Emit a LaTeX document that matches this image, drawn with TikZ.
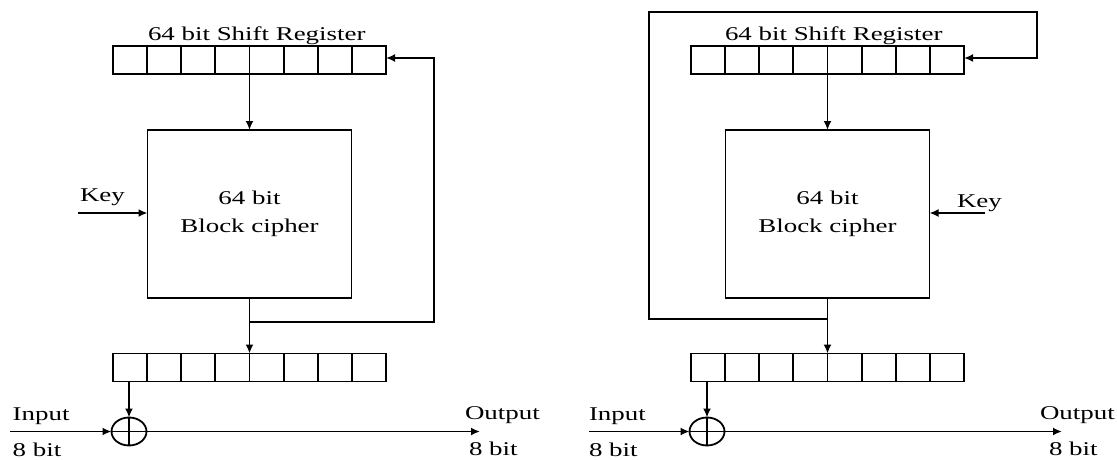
\documentclass[tikz,border=0pt]{standalone}
\usepackage{fontspec}
\newfontfamily\figfont[FakeStretch=1.38]{Liberation Serif}
\usetikzlibrary{arrows.meta,shapes.geometric}
\begin{document}
\begin{tikzpicture}[x=1pt,y=-1pt,
  every node/.style={font=\figfont\fontsize{19.5}{28}\selectfont, inner sep=0pt, outer sep=0pt},
  wire/.style={draw=black, line width=1.8pt},
  arrow/.style={wire, -{Latex[length=9pt,width=8pt]}},
  cell/.style={draw, line width=1.8pt, minimum width=34.125pt, minimum height=28pt},
  cipher/.style={draw, line width=1.8pt, minimum width=204pt, minimum height=168pt, align=center},
  xor/.style={draw, ellipse, line width=1.8pt, minimum width=35pt, minimum height=28pt},
  lbl/.style={anchor=base west}]
\fill[white] (0,0) rectangle (1117,460);
\useasboundingbox (0,0) rectangle (1117,460);

% ---------------- left diagram ----------------
\foreach \i in {1,...,8} {
  \node[cell] (lt\i) at ({113+34.125*(\i-0.5)},60) {};
  \node[cell] (lb\i) at ({113+34.125*(\i-0.5)},367.5) {};
}
\node[lbl] (ltlab) at (148,41) {64 bit Shift Register};
\node[cipher] (bl) at (249.5,214) {64 bit\\Block cipher};
\node[xor] (xL) at (129,431.5) {};
\draw[wire] (xL.north) -- (xL.south) (xL.west) -- (xL.east);

\draw[arrow] (bl.north |- lt4.south) -- (bl.north);
\draw[arrow] (bl.south) -- (bl.south |- lb4.north);
\coordinate (fbL1) at (434,322);
\coordinate (fbL2) at (434,58);
\draw[arrow] (bl.south |- fbL1) -- (fbL1) -- (fbL2) -- (fbL2 -| lt8.east);

\coordinate (kL) at (78,213);
\draw[arrow] (kL) -- (kL -| bl.west);
\node[lbl] (keyL) at (80,201) {Key};

\draw[arrow] (xL.north |- lb1.south) -- (xL.north);
\coordinate (inL) at (10,431.5);
\coordinate (outL) at (480,431.5);
\draw[arrow] (inL) -- (xL.west);
\draw[arrow] (xL.east) -- (outL);
\node[lbl] (inLab) at (12.7,420) {Input};
\node[lbl] (inBits) at (12.7,456) {8 bit};
\node[lbl] (outLab) at (465,419) {Output};
\node[lbl] (outBits) at (469,455) {8 bit};

% ---------------- right diagram ----------------
\foreach \i in {1,...,8} {
  \node[cell] (rt\i) at ({691+34.125*(\i-0.5)},60) {};
  \node[cell] (rb\i) at ({691+34.125*(\i-0.5)},367.5) {};
}
\node[lbl] (rtlab) at (725,41) {64 bit Shift Register};
\node[cipher] (br) at (827.5,214) {64 bit\\Block cipher};
\node[xor] (xR) at (707,431.5) {};
\draw[wire] (xR.north) -- (xR.south) (xR.west) -- (xR.east);

\draw[arrow] (br.north |- rt4.south) -- (br.north);
\draw[arrow] (br.south) -- (br.south |- rb4.north);
\coordinate (fbR1) at (649,319);
\coordinate (fbR2) at (649,12);
\coordinate (fbR3) at (1037,12);
\coordinate (fbR4) at (1037,58);
\draw[arrow] (br.south |- fbR1) -- (fbR1) -- (fbR2) -- (fbR3) -- (fbR4) -- (fbR4 -| rt8.east);

\coordinate (kR) at (985,213);
\draw[arrow] (kR) -- (kR -| br.east);
\node[lbl] (keyR) at (957,207) {Key};

\draw[arrow] (xR.north |- rb1.south) -- (xR.north);
\coordinate (inR) at (589,431.5);
\coordinate (outR) at (1062,431.5);
\draw[arrow] (inR) -- (xR.west);
\draw[arrow] (xR.east) -- (outR);
\node[lbl] (inLabR) at (589,420) {Input};
\node[lbl] (inBitsR) at (589,456) {8 bit};
\node[lbl] (outLabR) at (1040,419) {Output};
\node[lbl] (outBitsR) at (1049,455) {8 bit};
\end{tikzpicture}
\end{document}
